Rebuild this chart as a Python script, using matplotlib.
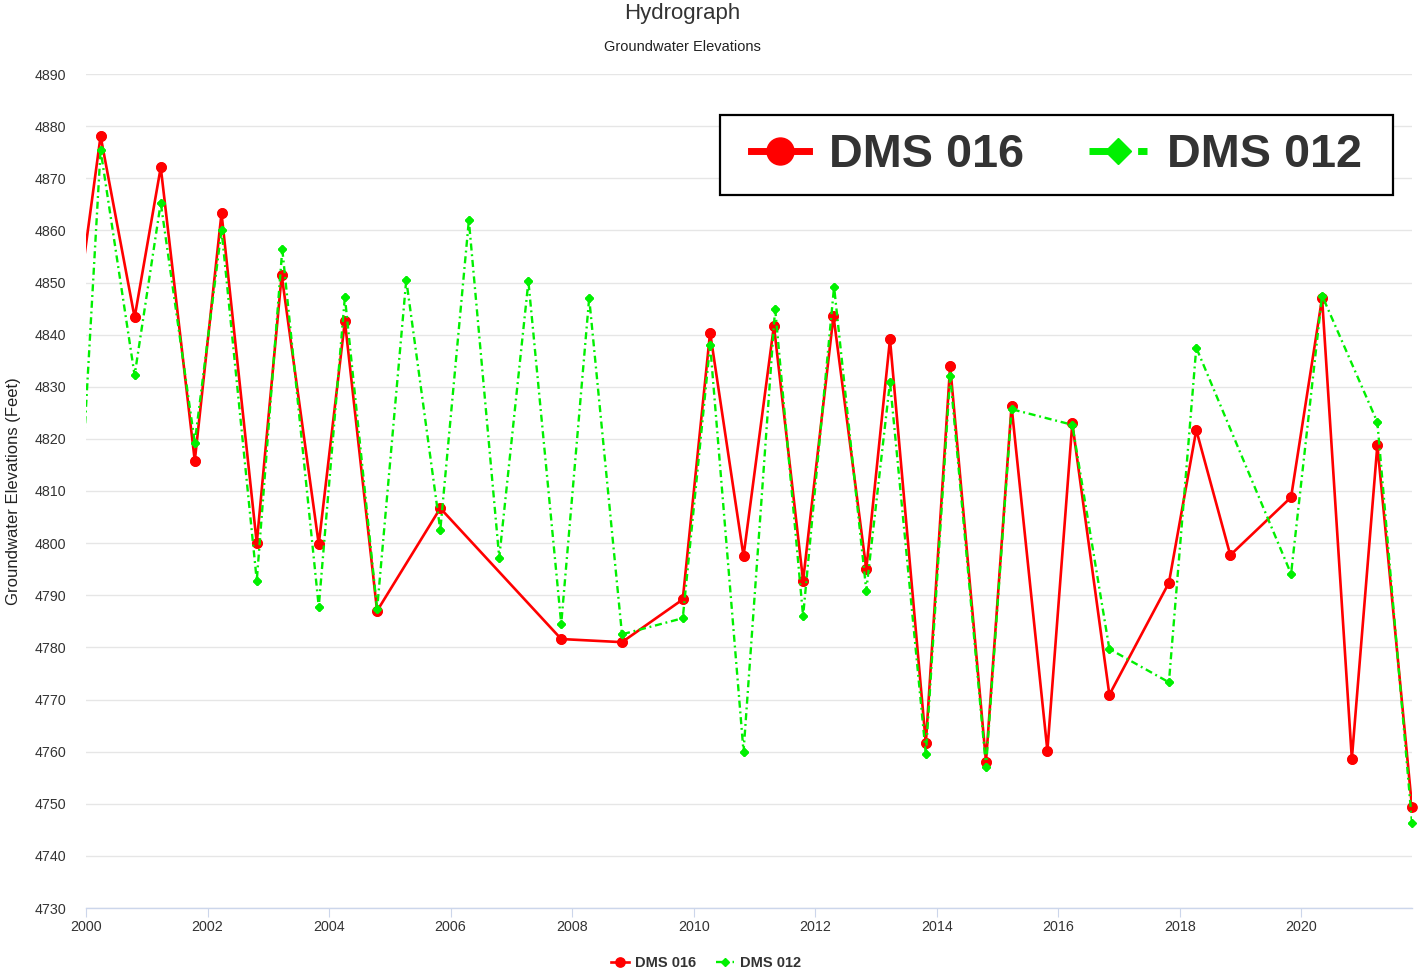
import matplotlib
matplotlib.use("Agg")
import matplotlib.pyplot as plt
from matplotlib.patches import Rectangle

plt.rcParams['font.family'] = ['Liberation Sans', 'DejaVu Sans']

# DMS 016 (red) - decimal year / elevation (ft)
years_016 = [1999.80, 2000.24, 2000.80, 2001.23, 2001.79, 2002.23, 2002.81, 2003.22, 2003.83,
             2004.26, 2004.79, 2005.83, 2007.82, 2008.82, 2009.82, 2010.27, 2010.82, 2011.32,
             2011.80, 2012.30, 2012.84, 2013.23, 2013.82, 2014.22, 2014.81, 2015.23, 2015.82,
             2016.23, 2016.84, 2017.82, 2018.27, 2018.83, 2019.83, 2020.34, 2020.83, 2021.25,
             2021.82]
elev_016 = [4840.0, 4878.1, 4843.3, 4872.1, 4815.8, 4863.3, 4800.0, 4851.4, 4799.8,
            4842.6, 4787.0, 4806.7, 4781.6, 4781.0, 4789.2, 4840.4, 4797.5, 4841.7,
            4792.8, 4843.6, 4795.0, 4839.1, 4761.6, 4834.0, 4758.1, 4826.3, 4760.2,
            4823.0, 4770.9, 4792.4, 4821.7, 4797.7, 4808.8, 4847.0, 4758.6, 4818.8,
            4749.4]

# DMS 012 (green)
years_012 = [1999.80, 2000.24, 2000.80, 2001.23, 2001.79, 2002.23, 2002.81, 2003.23, 2003.83,
             2004.26, 2004.79, 2005.27, 2005.83, 2006.30, 2006.80, 2007.28, 2007.82, 2008.28,
             2008.82, 2009.82, 2010.27, 2010.82, 2011.34, 2011.80, 2012.31, 2012.84, 2013.23,
             2013.82, 2014.22, 2014.81, 2015.23, 2016.23, 2016.84, 2017.82, 2018.27, 2019.83,
             2020.34, 2021.25, 2021.82]
elev_012 = [4785.0, 4875.4, 4832.2, 4865.3, 4819.3, 4860.1, 4792.8, 4856.4, 4787.8,
            4847.2, 4787.3, 4850.5, 4802.5, 4861.9, 4797.2, 4850.2, 4784.5, 4847.0,
            4782.5, 4785.6, 4838.1, 4760.0, 4845.0, 4786.0, 4849.2, 4790.9, 4830.9,
            4759.5, 4832.1, 4757.0, 4825.7, 4822.7, 4779.7, 4773.3, 4837.5, 4794.1,
            4847.5, 4823.2, 4746.4]

x_ticks = list(range(2000, 2021, 2))
y_ticks = list(range(4730, 4891, 10))
series_names = ["DMS 016", "DMS 012"]

RED = "#ff0000"
GREEN = "#00f000"
TXT = "#333333"
green_dash = (0, (3, 1.6, 0.8, 1.6))

fig = plt.figure(figsize=(14.2, 9.76), dpi=100)
ax = fig.add_axes([86 / 1420, 1 - 908 / 976, 1326 / 1420, 834 / 976])

l1, = ax.plot(years_016, elev_016, color=RED, lw=1.9, marker="o", ms=6.7,
              label=series_names[0], zorder=3)
l2, = ax.plot(years_012, elev_012, color=GREEN, lw=1.7, linestyle=green_dash,
              marker="D", ms=4.4, label=series_names[1], zorder=4)

# markers on the plot edges are not clipped (like highcharts)
vis16 = [(x, y) for x, y in zip(years_016, elev_016) if x >= 2000]
vis12 = [(x, y) for x, y in zip(years_012, elev_012) if x >= 2000]
ax.plot([p[0] for p in vis16], [p[1] for p in vis16], "o", color=RED, ms=6.7,
        clip_on=False, zorder=3)
ax.plot([p[0] for p in vis12], [p[1] for p in vis12], "D", color=GREEN, ms=4.4,
        clip_on=False, zorder=4)

ax.set_xlim(2000, 2021.82)
ax.set_ylim(4730, 4890)
ax.set_xticks(x_ticks)
ax.set_xticklabels([str(t) for t in x_ticks])
ax.set_yticks(y_ticks)
ax.grid(axis="y", color="#e6e6e6", lw=1)
ax.set_axisbelow(True)
for s in ["top", "right", "left"]:
    ax.spines[s].set_visible(False)
ax.spines["bottom"].set_color("#ccd6eb")
ax.spines["bottom"].set_linewidth(1)
ax.tick_params(axis="x", length=6.5, color="#ccd6eb", labelsize=10.3, labelcolor=TXT, pad=2)
ax.tick_params(axis="y", length=0, labelsize=10.3, labelcolor=TXT, pad=14)

fig.text(682 / 1420, 1 - 13 / 976, "Hydrograph", ha="center", va="center",
         fontsize=16, color=TXT)
fig.text(682 / 1420, 1 - 47 / 976, "Groundwater Elevations", ha="center", va="center",
         fontsize=10.5, color="#222222")
fig.text(14 / 1420, 1 - 491 / 976, "Groundwater Elevations (Feet)", rotation=90,
         ha="center", va="center", fontsize=12, color="#222222")

# bottom legend
fig.legend(handles=[l1, l2], labels=series_names, loc="center",
           bbox_to_anchor=(706 / 1420, 1 - 963 / 976), ncol=2, frameon=False,
           prop={"weight": "bold", "size": 10.5}, labelcolor=TXT,
           handlelength=1.25, handletextpad=0.4, columnspacing=1.4)

# big pasted legend box in the upper right
box = Rectangle((720 / 1420, 1 - 195 / 976), 673 / 1420, 80 / 976,
                transform=fig.transFigure, facecolor="white", edgecolor="black",
                lw=1.6, zorder=3)
fig.add_artist(box)
big = fig.legend(handles=[l1, l2], labels=series_names, loc="center",
                 bbox_to_anchor=(1056.5 / 1420, 1 - 155 / 976), ncol=2, frameon=False,
                 prop={"weight": "bold", "size": 33.7}, labelcolor=TXT,
                 handlelength=1.24, handletextpad=0.43, columnspacing=1.39,
                 markerscale=2.9)
big.set_zorder(6)
for ln in big.get_lines():
    ln.set_linewidth(5)

fig.savefig("out.png", dpi=100, facecolor="white")
